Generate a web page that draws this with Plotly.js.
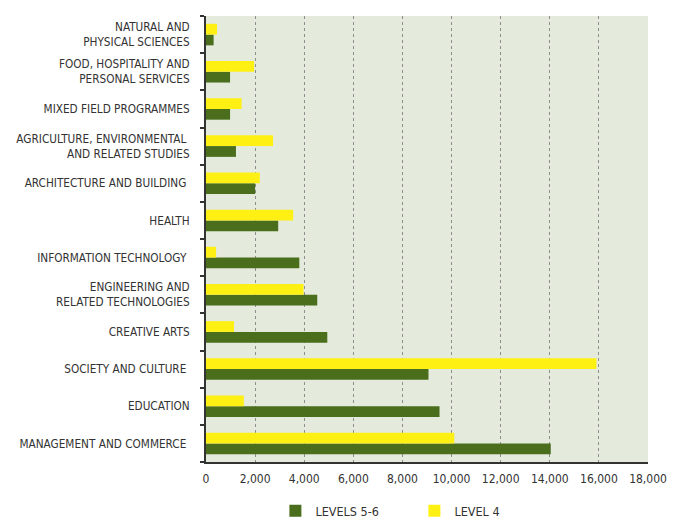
<!DOCTYPE html>
<html>
<head>
<meta charset="utf-8">
<script src="https://cdn.plot.ly/plotly-3.0.1.min.js"></script>
<style>html,body{margin:0;padding:0;background:#fff;}#chart{width:681px;height:520px;}</style>
</head>
<body>
<div id="chart"></div>
<script>
// Categories, top to bottom as shown in the chart
const categories = [
  "NATURAL AND<br>PHYSICAL SCIENCES",
  "FOOD, HOSPITALITY AND<br>PERSONAL SERVICES",
  "MIXED FIELD PROGRAMMES",
  "AGRICULTURE, ENVIRONMENTAL <br>AND RELATED STUDIES",
  "ARCHITECTURE AND BUILDING ",
  "HEALTH",
  "INFORMATION TECHNOLOGY ",
  "ENGINEERING AND<br>RELATED TECHNOLOGIES",
  "CREATIVE ARTS",
  "SOCIETY AND CULTURE ",
  "EDUCATION",
  "MANAGEMENT AND COMMERCE "
];
const levels56 = [310, 980, 980, 1220, 2000, 2940, 3800, 4530, 4940, 9060, 9510, 14040];
const level4   = [450, 1960, 1450, 2730, 2190, 3550, 410, 3970, 1140, 15900, 1540, 10110];
const xTickVals = [0, 2000, 4000, 6000, 8000, 10000, 12000, 14000, 16000, 18000];
const xTickText = ["0", "2,000", "4,000", "6,000", "8,000", "10,000", "12,000", "14,000", "16,000", "18,000"];

const FONT = "'DejaVu Sans Condensed', sans-serif";
const data = [
  {type: "bar", orientation: "h", name: "LEVELS 5-6", y: categories, x: levels56,
   marker: {color: "#4a6e1c"}},
  {type: "bar", orientation: "h", name: "LEVEL 4", y: categories, x: level4,
   marker: {color: "#fff014"}}
];
const layout = {
  width: 681, height: 520,
  margin: {l: 206, r: 33, t: 16, b: 58, autoexpand: false},
  paper_bgcolor: "#ffffff",
  plot_bgcolor: "#e4eadc",
  barmode: "group",
  bargap: 0.42,
  bargroupgap: 0,
  font: {family: FONT, size: 12, color: "#333333"},
  xaxis: {
    range: [0, 18000], tickvals: xTickVals, ticktext: xTickText, automargin: false,
    showgrid: true, gridcolor: "#8e8e8e", griddash: "dot", gridwidth: 1,
    zeroline: false, showline: true, linecolor: "#333", linewidth: 2,
    ticks: "", ticklabelstandoff: 5,
    tickfont: {family: FONT, size: 12, color: "#333333"}, fixedrange: true
  },
  yaxis: {
    type: "category", categoryorder: "array", categoryarray: categories.slice().reverse(),
    automargin: false,
    showgrid: false, zeroline: false, showline: true, linecolor: "#333", linewidth: 2,
    ticks: "outside", tickson: "boundaries", ticklen: 4, tickcolor: "#333", tickwidth: 2,
    ticklabelstandoff: 12,
    tickfont: {family: FONT, size: 11.7, color: "#333333"}, fixedrange: true
  },
  legend: {
    orientation: "h", x: 0.157, xanchor: "left", y: -0.11, yanchor: "middle",
    entrywidth: 94, entrywidthmode: "pixels",
    font: {family: FONT, size: 12.5, color: "#333333"}, itemwidth: 30, tracegroupgap: 0
  },
  showlegend: true
};
Plotly.newPlot("chart", data, layout, {displayModeBar: false, staticPlot: true});
</script>
</body>
</html>
